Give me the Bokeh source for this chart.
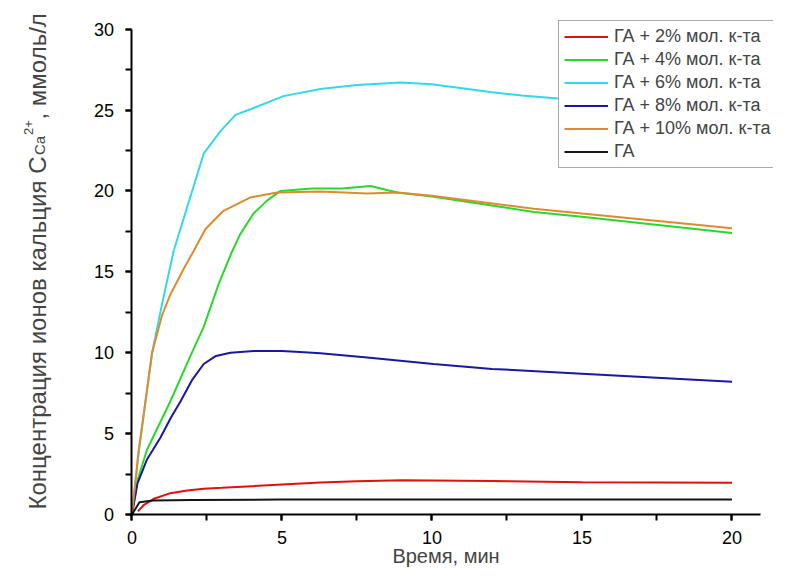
from bokeh.plotting import figure
from bokeh.models import Range1d, SingleIntervalTicker, Label, Legend
from bokeh.embed import file_html
from bokeh.resources import INLINE
import math

# ---- data (time, min ; concentration, mmol/l) ----
t_2 = [0.2, 0.4, 0.73, 1.28, 1.84, 2.39, 3.0, 4.0, 5.0, 6.28, 7.5, 9.0, 10.0, 12.0, 15.0, 20.0]
c_2 = [0.2, 0.6, 0.97, 1.32, 1.48, 1.59, 1.65, 1.75, 1.85, 1.98, 2.05, 2.12, 2.1, 2.07, 2.0, 1.96]

t_4 = [0, 0.18, 0.5, 1.28, 1.95, 2.39, 2.9, 3.3, 3.6, 4.05, 4.5, 4.95, 6.0, 7.0, 7.95, 8.84, 10.0, 13.4, 15.0, 20.0]
c_4 = [0, 2.1, 4.0, 7.0, 9.8, 11.6, 14.3, 16.1, 17.3, 18.6, 19.4, 20.0, 20.15, 20.15, 20.3, 19.9, 19.65, 18.7, 18.4, 17.4]

t_6 = [0, 0.2, 0.67, 1.0, 1.39, 1.84, 2.39, 2.95, 3.45, 3.95, 5.05, 6.28, 7.5, 8.95, 10.0, 11.0, 12.0, 13.0, 14.3, 16.0, 18.0, 20.0]
c_6 = [0, 3.5, 10.0, 13.0, 16.3, 19.0, 22.3, 23.7, 24.7, 25.05, 25.86, 26.3, 26.55, 26.7, 26.6, 26.35, 26.1, 25.9, 25.7, 25.3, 24.9, 24.5]

t_8 = [0, 0.18, 0.5, 0.95, 1.3, 1.62, 2.0, 2.39, 2.8, 3.28, 4.06, 5.0, 5.6, 6.28, 7.84, 10.05, 12.0, 15.0, 17.5, 20.0]
c_8 = [0, 1.9, 3.4, 4.76, 6.0, 7.0, 8.3, 9.3, 9.8, 10.0, 10.1, 10.1, 10.05, 9.96, 9.7, 9.3, 9.0, 8.7, 8.45, 8.2]

t_10 = [0, 0.22, 0.67, 1.0, 1.28, 1.73, 2.06, 2.45, 3.05, 3.95, 4.84, 6.28, 7.84, 8.84, 10.0, 13.4, 15.0, 20.0]
c_10 = [0, 3.9, 10.0, 12.3, 13.6, 15.2, 16.3, 17.65, 18.77, 19.6, 19.9, 19.96, 19.84, 19.9, 19.7, 18.9, 18.6, 17.7]

t_0 = [0, 0.25, 0.7, 2.0, 5.0, 10.0, 15.0, 20.0]
c_0 = [0, 0.76, 0.86, 0.9, 0.92, 0.93, 0.93, 0.92]

labels = ["ГА + 2% мол. к-та", "ГА + 4% мол. к-та", "ГА + 6% мол. к-та",
          "ГА + 8% мол. к-та", "ГА + 10% мол. к-та", "ГА"]
x_label = "Время, мин"
y_label_main = "Концентрация ионов кальция C"
y_label_sub = "Ca"
y_label_sup = "2+"
y_label_rest = ", ммоль/л"

series = [(t_2, c_2, "#e01010"), (t_4, c_4, "#2ad82a"), (t_6, c_6, "#35d8ea"),
          (t_8, c_8, "#1818a0"), (t_10, c_10, "#e08a2e"), (t_0, c_0, "#151515")]

FONT = "Liberation Sans"

p = figure(width=773, height=569, output_backend="svg", toolbar_location=None,
           x_range=Range1d(-4.383, 21.384), y_range=Range1d(-3.40, 31.77),
           min_border_left=0, min_border_right=0, min_border_top=0, min_border_bottom=0)
p.outline_line_color = None
p.xgrid.visible = False
p.ygrid.visible = False
p.background_fill_color = "white"
p.border_fill_color = "white"

items = []
for (tt, cc, col), lab in zip(series, labels):
    r = p.line(tt, cc, line_color=col, line_width=2)
    items.append((lab, [r]))

for ax in (p.xaxis[0], p.yaxis[0]):
    ax.ticker = SingleIntervalTicker(interval=5, num_minor_ticks=2)
    ax.fixed_location = 0
    ax.axis_line_width = 2
    ax.axis_line_color = "black"
    ax.major_tick_line_width = 2
    ax.minor_tick_line_width = 2
    ax.major_tick_in = 0
    ax.major_tick_out = 6
    ax.minor_tick_in = 0
    ax.minor_tick_out = 6
    ax.major_label_text_font = FONT
    ax.major_label_text_font_size = "18px"
    ax.major_label_text_color = "black"

p.xaxis[0].bounds = (0, 20.95)
p.yaxis[0].bounds = (0, 30)
p.yaxis[0].major_label_standoff = 12
p.xaxis[0].major_label_standoff = 11
p.xaxis[0].axis_label = x_label
p.xaxis[0].axis_label_text_font = FONT
p.xaxis[0].axis_label_text_font_size = "20px"
p.xaxis[0].axis_label_text_font_style = "normal"
p.xaxis[0].axis_label_standoff = -3

# y-axis label built from pieces (subscript / superscript)
F = 24
bx = 37
main = Label(x=bx, y=413, x_units="screen", y_units="screen", angle=math.pi / 2,
             text=y_label_main, text_align="right", text_baseline="alphabetic",
             text_font=FONT, text_font_size=f"{F}px")
sub = Label(x=bx + 2, y=414.5, x_units="screen", y_units="screen", angle=math.pi / 2,
            text=y_label_sub, text_align="left", text_baseline="alphabetic",
            text_font=FONT, text_font_size="15px")
sup = Label(x=bx - 9, y=434.5, x_units="screen", y_units="screen", angle=math.pi / 2,
            text=y_label_sup, text_align="left", text_baseline="alphabetic",
            text_font=FONT, text_font_size="13px")
rest = Label(x=bx, y=450, x_units="screen", y_units="screen", angle=math.pi / 2,
             text=y_label_rest, text_align="left", text_baseline="alphabetic",
             text_font=FONT, text_font_size=f"{F}px")
for lb in (main, sub, sup, rest):
    p.add_layout(lb)

legend = Legend(items=items, location=(558, 401))
legend.label_text_font = FONT
legend.label_text_font_size = "18px"
legend.label_width = 150
legend.label_height = 21
legend.glyph_height = 21
legend.glyph_width = 44
legend.label_standoff = 6
legend.spacing = 2
legend.padding = 5
legend.margin = 0
legend.border_line_color = "#555555"
legend.border_line_width = 1
legend.background_fill_alpha = 1
p.add_layout(legend, "center")

open("out.html", "w").write(file_html(p, INLINE))
